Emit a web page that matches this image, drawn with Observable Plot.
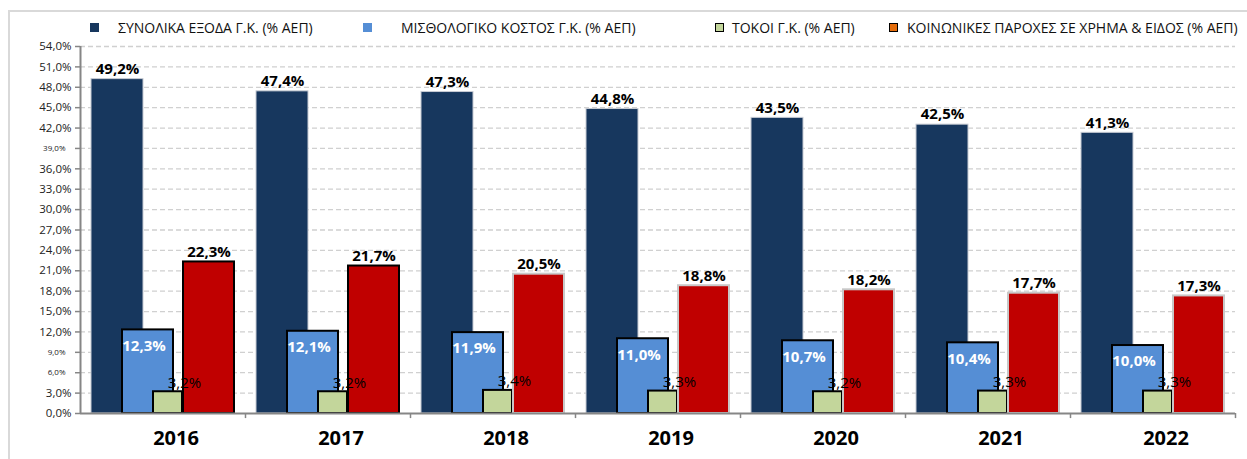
<!DOCTYPE html>
<html>
<head>
<meta charset="utf-8">
<script src="https://cdn.jsdelivr.net/npm/d3@7"></script>
<script src="https://cdn.jsdelivr.net/npm/@observablehq/plot@0.6"></script>
<style>
  body { margin: 0; background: #fff; font-family: "Open Sans", sans-serif; }
  #wrap { position: relative; width: 1247px; height: 459px; overflow: hidden; }
  #frame { position: absolute; left: 8px; top: 10px; width: 1245px; height: 460px;
           border-top: 2px solid #d9d9d9; border-left: 2px solid #d9d9d9; box-sizing: border-box; }
  #legend { position: relative; height: 36px; }
  .item { position: absolute; top: 18px; font-size: 14px; line-height: 20px; color: #111; white-space: nowrap; }
  .sw { position: absolute; top: 5px; width: 9px; height: 9px; box-sizing: border-box; }
  #chart { position: relative; }
</style>
</head>
<body>
<div id="wrap">
  <div id="frame"></div>
  <div id="legend"></div>
  <div id="chart"></div>
</div>
<script>
const years = ["2016", "2017", "2018", "2019", "2020", "2021", "2022"];
const totalSpending = [49.2, 47.4, 47.3, 44.8, 43.5, 42.5, 41.3];
const wageCost = [12.3, 12.1, 11.9, 11.0, 10.7, 10.4, 10.0];
const interest = [3.2, 3.2, 3.4, 3.3, 3.2, 3.3, 3.3];
const socialBenefits = [22.3, 21.7, 20.5, 18.8, 18.2, 17.7, 17.3];
const seriesNames = [
  "ΣΥΝΟΛΙΚΑ ΕΞΟΔΑ Γ.Κ. (% ΑΕΠ)",
  "ΜΙΣΘΟΛΟΓΙΚΟ ΚΟΣΤΟΣ Γ.Κ. (% ΑΕΠ)",
  "ΤΟΚΟΙ Γ.Κ. (% ΑΕΠ)",
  "ΚΟΙΝΩΝΙΚΕΣ ΠΑΡΟΧΕΣ ΣΕ ΧΡΗΜΑ & ΕΙΔΟΣ (% ΑΕΠ)"
];
const yTicks = d3.range(0, 55, 3);
const smallTicks = [39, 9, 6];

const colors = ["#17375e", "#558ed5", "#c3d69b", "#c00000"];
const legendColors = ["#17375e", "#558ed5", "#c3d69b", "#e46c0a"];
const legendBorders = [false, false, true, true];
const legendX = [90, 363, 715, 889];
const legendGap = [28, 38, 17, 18];

const fmt = v => v.toFixed(1).replace(".", ",") + "%";

// Legend
const legend = document.getElementById("legend");
seriesNames.forEach((name, i) => {
  const item = document.createElement("div");
  item.className = "item";
  item.style.left = legendX[i] + "px";
  item.style.paddingLeft = legendGap[i] + "px";
  const sw = document.createElement("span");
  sw.className = "sw";
  sw.style.left = "0px";
  sw.style.background = legendColors[i];
  if (legendBorders[i]) sw.style.border = "1.5px solid #000";
  item.appendChild(sw);
  item.appendChild(document.createTextNode(name));
  legend.appendChild(item);
});

const rows = years.map((year, i) => ({
  year, i,
  total: totalSpending[i],
  wage: wageCost[i],
  interest: interest[i],
  social: socialBenefits[i]
}));

const font = "Open Sans, sans-serif";

const chart = Plot.plot({
  width: 1247,
  height: 423,
  marginTop: 10,
  marginBottom: 46,
  marginLeft: 80,
  marginRight: 12,
  style: { fontFamily: font, background: "transparent", overflow: "visible" },
  x: { type: "band", domain: years, padding: 0, axis: null },
  y: { domain: [0, 54], axis: null },
  marks: [
    // grid
    Plot.ruleY(yTicks.filter(d => d > 0), { stroke: "#d0d0d0", strokeWidth: 1.3, strokeDasharray: "5,3" }),
    // y axis ticks & labels
    Plot.axisY({ ticks: yTicks, tickSize: 5, tickPadding: 4, stroke: "#868686", strokeWidth: 1.5,
                 fontSize: 11.5, fill: "#222",
                 tickFormat: d => smallTicks.includes(d) ? "" : fmt(d) }),
    Plot.text(smallTicks, { y: d => d, text: d => fmt(d), frameAnchor: "left", textAnchor: "end",
                 dx: -15, fontSize: 8, fill: "#222" }),
    // bars
    Plot.barY(rows, { x: "year", y: "total", fill: colors[0], stroke: "#c8ccd4", strokeWidth: 1,
                 insetLeft: 11, insetRight: 102 }),
    Plot.barY(rows, { x: "year", y: "wage", fill: colors[1], stroke: "#000", strokeWidth: 2,
                 insetLeft: 42, insetRight: 72 }),
    Plot.barY(rows, { x: "year", y: "interest", fill: colors[2], stroke: "#000", strokeWidth: 2,
                 insetLeft: 73, insetRight: 63 }),
    Plot.barY(rows, { x: "year", y: "social", fill: colors[3],
                 stroke: d => d.i < 2 ? "#000" : "#c8c8c8", strokeWidth: 2,
                 insetLeft: 103, insetRight: 11 }),
    // axes lines
    Plot.ruleX([years[0]], { x: d => d, dx: -82.5, y1: 0, y2: 54, stroke: "#868686", strokeWidth: 2 }),
    Plot.ruleY([0], { stroke: "#868686", strokeWidth: 2 }),
    Plot.ruleX(years.slice(1), { x: d => d, dx: -82.5, y1: 0, y2: -0.75, stroke: "#868686", strokeWidth: 1.5 }),
    Plot.ruleX([years[years.length - 1]], { x: d => d, dx: 82.5, y1: 0, y2: -0.75, stroke: "#868686", strokeWidth: 1.5 }),
    // labels
    Plot.text(rows, { x: "year", y: "total", text: d => fmt(d.total), dx: -45.5, dy: -10,
                 fontSize: 15, fontWeight: "bold", fill: "#000", lineAnchor: "middle" }),
    Plot.text(rows, { x: "year", y: "wage", text: d => fmt(d.wage), dx: -19, dy: 16,
                 fontSize: 15, fontWeight: "bold", fill: "#fff", lineAnchor: "middle" }),
    Plot.text(rows, { x: "year", y: "interest", text: d => fmt(d.interest), dx: 21.5, dy: -9,
                 fontSize: 15, fill: "#000", lineAnchor: "middle" }),
    Plot.text(rows, { x: "year", y: "social", text: d => fmt(d.social), dx: 46, dy: -10,
                 fontSize: 15, fontWeight: "bold", fill: "#000", lineAnchor: "middle" }),
    // year labels
    Plot.text(rows, { x: "year", y: 0, text: "year", dx: 13, dy: 25,
                 fontSize: 20, fontWeight: "bold", fill: "#000", lineAnchor: "middle" })
  ]
});
document.getElementById("chart").appendChild(chart);
</script>
</body>
</html>
